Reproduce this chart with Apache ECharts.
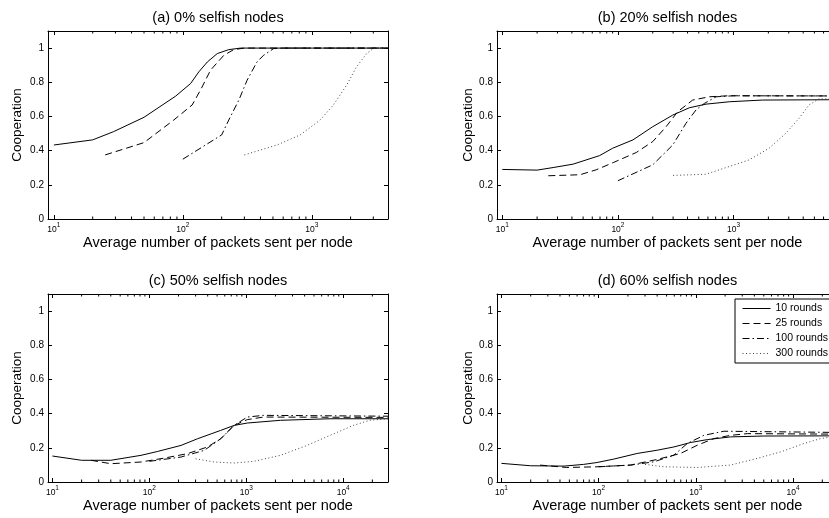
<!DOCTYPE html>
<html>
<head>
<meta charset="utf-8" />
<title></title>
<script type="text/javascript" src="https://cdn.jsdelivr.net/npm/echarts@6/dist/echarts.min.js"></script>
<style>
	html, body {
		margin: 0;
		padding: 0;
		width: 829px;
		height: 518px;
		overflow: hidden;
		background: #fff;
	}
</style>
</head>
<body>
<!-- right column is cut off at the edge in the reference, so the chart is a bit wider than the window -->
<div id="container" style="width: 838px;height: 518px"></div>
<script>
var seriesNames = ['10 rounds', '25 rounds', '100 rounds', '300 rounds'];

// (a) 0% selfish nodes
var a10 = [[10, 0.433], [20, 0.463], [29, 0.511], [50, 0.595], [88, 0.719], [115, 0.793], [133, 0.861], [155, 0.919], [185, 0.968], [227, 0.991], [280, 1.0], [3900, 1.0]];
var a25 = [[25, 0.375], [50, 0.447], [85, 0.579], [118, 0.667], [137, 0.754], [164, 0.871], [208, 0.958], [248, 0.991], [300, 1.0], [3900, 1.0]];
var a100 = [[100, 0.35], [200, 0.492], [227, 0.579], [272, 0.696], [315, 0.812], [376, 0.919], [423, 0.958], [506, 0.997], [600, 1.0], [3900, 1.0]];
var a300 = [[300, 0.375], [537, 0.433], [813, 0.492], [1160, 0.579], [1470, 0.667], [1862, 0.783], [2224, 0.89], [2660, 0.968], [3000, 0.997], [3900, 1.0]];

// (b) 20% selfish nodes
var b10 = [[10, 0.29], [20, 0.286], [27.5, 0.301], [41, 0.321], [69.5, 0.371], [90, 0.414], [135, 0.463], [200, 0.54], [298, 0.608], [415, 0.651], [577, 0.672], [918, 0.686], [1780, 0.696], [8000, 0.698]];
var b25 = [[25, 0.253], [47, 0.259], [65, 0.288], [91, 0.33], [144, 0.389], [200, 0.453], [261, 0.54], [329, 0.628], [443, 0.696], [617, 0.715], [900, 0.721], [8000, 0.72]];
var b100 = [[100, 0.224], [200, 0.317], [298, 0.433], [388, 0.56], [473, 0.638], [558, 0.676], [705, 0.715], [1000, 0.721], [8000, 0.72]];
var b300 = [[300, 0.255], [577, 0.262], [918, 0.307], [1366, 0.346], [2029, 0.414], [2824, 0.501], [3680, 0.589], [4490, 0.667], [5480, 0.703], [8000, 0.702]];

// (c) 50% selfish nodes
var c10 = [[10, 0.152], [20, 0.127], [40, 0.127], [82, 0.156], [122, 0.179], [212, 0.214], [314, 0.253], [545, 0.302], [748, 0.331], [1024, 0.345], [2250, 0.361], [7330, 0.37], [29000, 0.37]];
var c25 = [[25, 0.127], [40, 0.107], [82, 0.117], [143, 0.14], [248, 0.166], [398, 0.205], [545, 0.253], [748, 0.331], [1024, 0.365], [1510, 0.38], [29000, 0.378]];
var c100 = [[100, 0.121], [212, 0.146], [368, 0.185], [545, 0.253], [748, 0.331], [1024, 0.38], [1510, 0.39], [29000, 0.385]];
var c300 = [[300, 0.136], [466, 0.117], [748, 0.111], [1200, 0.121], [2250, 0.156], [4230, 0.214], [7330, 0.273], [12700, 0.331], [18800, 0.361], [29000, 0.37]];

// (d) 60% selfish nodes
var d10 = [[10, 0.109], [20, 0.095], [44, 0.093], [70, 0.103], [96, 0.114], [143, 0.134], [249, 0.167], [400, 0.186], [594, 0.205], [881, 0.231], [1310, 0.248], [2275, 0.264], [5000, 0.269], [29000, 0.27]];
var d25 = [[25, 0.099], [47, 0.085], [96, 0.089], [213, 0.099], [400, 0.132], [695, 0.167], [1033, 0.215], [1532, 0.254], [2275, 0.273], [3376, 0.283], [29000, 0.28]];
var d100 = [[100, 0.089], [213, 0.099], [370, 0.118], [594, 0.157], [815, 0.225], [1208, 0.273], [1940, 0.297], [29000, 0.29]];
var d300 = [[300, 0.103], [469, 0.089], [1033, 0.085], [2275, 0.099], [4280, 0.138], [7430, 0.176], [12900, 0.225], [19200, 0.254], [29000, 0.269]];

var panels = [
	{ title: '(a) 0% selfish nodes', left: 48, top: 31, width: 340, height: 188, xMax: 3900, gapY: 24, lines: [a10, a25, a100, a300] },
	{ title: '(b) 20% selfish nodes', left: 497, top: 31, width: 341, height: 188, xMax: 8000, gapY: 22, lines: [b10, b25, b100, b300] },
	{ title: '(c) 50% selfish nodes', left: 48, top: 294, width: 340, height: 188, xMax: 29000, gapY: 24, lines: [c10, c25, c100, c300] },
	{ title: '(d) 60% selfish nodes', left: 497, top: 294, width: 341, height: 188, xMax: 29000, gapY: 22, lines: [d10, d25, d100, d300] }
];
var xMin = 9;
var yMax = 1.1;

var font = 'Liberation Sans, Arial, Helvetica, sans-serif';
var dashes = ['solid', [7, 4], [7, 3, 1.5, 3], [1, 2.5]];
var lineColors = ['#000', '#000', '#000', '#444'];

var dom = document.getElementById('container');
var myChart = echarts.init(dom, null, { renderer: 'canvas' });

function powLabel(value) {
	var e = Math.log(value) / Math.LN10;
	if (Math.abs(e - Math.round(e)) > 1e-6) {
		return '';
	}
	return '{b|10}{s|' + Math.round(e) + '}';
}

function minorTicks(lo, hi) {
	var out = [];
	for (var k = 0; k < 6; k++) {
		for (var m = 2; m < 10; m++) {
			var v = m * Math.pow(10, k);
			if (v > lo && v < hi) out.push([v, 0]);
		}
	}
	return out;
}

var grid = [], xAxis = [], yAxis = [], series = [], graphic = [];

panels.forEach(function (p, i) {
	grid.push({
		left: p.left, top: p.top, width: p.width, height: p.height,
		containLabel: false, outerBoundsMode: 'none'
	});
	var axisLine = { show: true, onZero: false, lineStyle: { color: '#000', width: 1 } };
	var tick = { show: true, inside: true, length: 4, lineStyle: { color: '#000' } };
	xAxis.push({
		type: 'log', logBase: 10, gridIndex: i, min: xMin, max: p.xMax, position: 'bottom',
		name: 'Average number of packets sent per node', nameLocation: 'middle', nameGap: 11,
		nameTextStyle: { fontSize: 14.5, color: '#000', fontFamily: font },
		axisLine: axisLine,
		axisTick: tick,
		axisLabel: {
			show: true, margin: 3, formatter: powLabel, color: '#000',
			rich: {
				b: { fontSize: 8.5, fontFamily: font, color: '#000' },
				s: { fontSize: 6.5, fontFamily: font, color: '#000', padding: [0, 0, 9, 0] }
			}
		},
		splitLine: { show: false }
	});
	xAxis.push({
		type: 'log', logBase: 10, gridIndex: i, min: xMin, max: p.xMax, position: 'top',
		axisLine: axisLine,
		axisTick: tick,
		axisLabel: { show: false },
		splitLine: { show: false }
	});
	yAxis.push({
		type: 'value', gridIndex: i, min: 0, max: yMax, interval: 0.2, position: 'left',
		name: 'Cooperation', nameLocation: 'middle', nameGap: p.gapY, nameRotate: 90,
		nameTextStyle: { fontSize: 13.5, color: '#000', fontFamily: font },
		axisLine: axisLine,
		axisTick: tick,
		axisLabel: {
			margin: 4, fontSize: 10, color: '#000', fontFamily: font,
			formatter: function (v) { return v > 1.05 ? '' : String(Math.round(v * 10) / 10); }
		},
		splitLine: { show: false }
	});
	yAxis.push({
		type: 'value', gridIndex: i, min: 0, max: yMax, interval: 0.2, position: 'right',
		axisLine: axisLine,
		axisTick: tick,
		axisLabel: { show: false },
		splitLine: { show: false }
	});

	p.lines.forEach(function (d, j) {
		series.push({
			name: seriesNames[j], type: 'line', xAxisIndex: i * 2, yAxisIndex: i * 2,
			data: d, symbol: 'none', silent: true, animation: false,
			lineStyle: { color: lineColors[j], width: 1, type: dashes[j] },
			itemStyle: { color: lineColors[j] }
		});
	});

	// minor log ticks on bottom and top
	series.push({
		type: 'custom', xAxisIndex: i * 2, yAxisIndex: i * 2, silent: true, animation: false,
		data: minorTicks(xMin, p.xMax),
		renderItem: function (params, api) {
			var v = api.value(0);
			var b = api.coord([v, 0]);
			var t = api.coord([v, yMax]);
			return {
				type: 'group', children: [
					{ type: 'line', shape: { x1: b[0], y1: b[1], x2: b[0], y2: b[1] - 2.5 }, style: { stroke: '#000', lineWidth: 1 } },
					{ type: 'line', shape: { x1: t[0], y1: t[1], x2: t[0], y2: t[1] + 2.5 }, style: { stroke: '#000', lineWidth: 1 } }
				]
			};
		}
	});

	graphic.push({
		type: 'text', x: p.left + p.width / 2, y: p.top - 13.5, silent: true,
		style: {
			text: p.title, fontSize: 14.5, fontFamily: font, fill: '#000',
			align: 'center', verticalAlign: 'middle', textAlign: 'center', textVerticalAlign: 'middle'
		}
	});
});

var option = {
	backgroundColor: '#fff',
	animation: false,
	grid: grid,
	xAxis: xAxis,
	yAxis: yAxis,
	graphic: graphic,
	legend: {
		data: seriesNames,
		orient: 'vertical',
		left: 735, top: 299,
		padding: [4, 6, 4, 7],
		itemWidth: 28, itemHeight: 9, itemGap: 4,
		selectedMode: false,
		backgroundColor: '#fff',
		borderColor: '#000', borderWidth: 1, borderRadius: 0,
		// line sample only, no marker in the middle
		itemStyle: { opacity: 0, borderWidth: 0 },
		lineStyle: { width: 1 },
		textStyle: { fontSize: 10.5, color: '#000', fontFamily: font }
	},
	series: series
};

myChart.setOption(option);
</script>
</body>
</html>
